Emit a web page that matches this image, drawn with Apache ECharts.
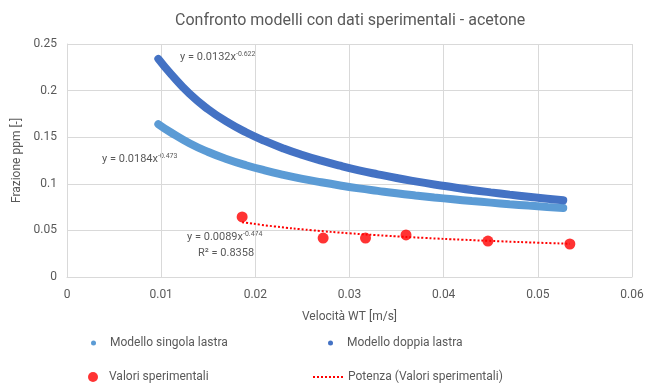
<!DOCTYPE html>
<html><head><meta charset="utf-8">
<script src="https://cdn.jsdelivr.net/npm/echarts@6/dist/echarts.min.js"></script>
<style>html,body{margin:0;padding:0;background:#fff}#c{width:662px;height:385px}</style>
</head><body><div id="c"></div>
<script>
// Data
const xModel = [0.0097,0.011,0.013,0.015,0.017,0.019,0.021,0.023,0.025,0.027,0.029,0.031,0.033,0.035,0.037,0.039,0.041,0.043,0.045,0.047,0.049,0.051,0.0527];
const ySingola = [0.1640,0.1553,0.1435,0.1341,0.1264,0.1199,0.1144,0.1096,0.1053,0.1016,0.0982,0.0951,0.0924,0.0898,0.0875,0.0854,0.0834,0.0815,0.0798,0.0781,0.0766,0.0752,0.0740];
const yDoppia = [0.2340,0.2182,0.1967,0.1799,0.1664,0.1553,0.1460,0.1379,0.1309,0.1248,0.1194,0.1145,0.1102,0.1062,0.1026,0.0993,0.0963,0.0934,0.0908,0.0884,0.0862,0.0840,0.0823];
const xExp = [0.0186,0.0272,0.0317,0.0360,0.0447,0.0534];
const yExp = [0.0644,0.0418,0.0418,0.0451,0.0386,0.0354];
const xTrend = [0.0186,0.022,0.026,0.030,0.034,0.038,0.042,0.046,0.050,0.0534];
const yTrend = [0.0588,0.0543,0.0502,0.0469,0.0442,0.0419,0.0400,0.0383,0.0368,0.0357];
const names = ['Modello singola lastra','Modello doppia lastra','Valori sperimentali','Potenza (Valori sperimentali)'];
const xTicks = [0,0.01,0.02,0.03,0.04,0.05,0.06];
const yTicks = [0,0.05,0.1,0.15,0.2,0.25];

const zip = (a,b)=>a.map((v,i)=>[v,b[i]]);
const FONT = 'Roboto';
const GRAY = '#595959';
const DOTTED = 'path://M0,0h2v2h-2z M4,0h2v2h-2z M8,0h2v2h-2z M12,0h2v2h-2z M16,0h2v2h-2z M20,0h2v2h-2z M24,0h2v2h-2z M28,0h2v2h-2z';
const chart = echarts.init(document.getElementById('c'));
function leg(name, icon, left, cy, w, h, padL){
  return {data:[{name:name, icon:icon}], left:left, top:cy - 8, itemWidth:w, itemHeight:h, padding:[0,0,0,0],
    itemStyle:{borderWidth:0},
    textStyle:{color:GRAY,fontSize:12,fontFamily:FONT,padding:[0,0,0,padL], height:16, lineHeight:16}};
}
chart.setOption({
  animation:false,
  textStyle:{fontFamily:FONT},
  title:{text:'Confronto modelli con dati sperimentali - acetone',left:170,top:8,
    textStyle:{fontSize:16,fontWeight:'normal',color:GRAY,fontFamily:FONT}},
  grid:{left:67,right:30,top:44,bottom:108},
  xAxis:{type:'value',min:0,max:0.06,interval:0.01,
    name:'Velocità WT [m/s]',nameLocation:'middle',nameGap:34,
    nameTextStyle:{color:GRAY,fontSize:12,fontFamily:FONT},
    axisLine:{show:true,lineStyle:{color:'#d9d9d9'}},axisTick:{show:false},
    axisLabel:{color:GRAY,fontSize:12,margin:12,formatter:v=>String(+v.toFixed(2))},
    splitLine:{show:true,lineStyle:{color:'#d9d9d9'}}},
  yAxis:{type:'value',min:0,max:0.25,interval:0.05,
    name:'Frazione ppm [-]',nameLocation:'middle',nameGap:37,
    nameTextStyle:{color:GRAY,fontSize:12,fontFamily:FONT},
    axisLine:{show:true,lineStyle:{color:'#d9d9d9'}},axisTick:{show:false},
    axisLabel:{color:GRAY,fontSize:12,margin:10,formatter:v=>String(+v.toFixed(2))},
    splitLine:{show:true,lineStyle:{color:'#d9d9d9'}}},
  legend:[
    leg(names[0],'circle',91,343,5,5,9),
    leg(names[1],'circle',328,343,5,5,9),
    leg(names[2],'circle',88,377,10,10,6),
    leg(names[3],DOTTED,313,377,30,2,0)
  ],
  series:[
    {name:names[0],type:'line',data:zip(xModel,ySingola),smooth:true,showSymbol:false,symbol:'circle',
      itemStyle:{color:'#5b9bd5'},lineStyle:{width:8,color:'#5b9bd5',cap:'round'},z:3},
    {name:names[1],type:'line',data:zip(xModel,yDoppia),smooth:true,showSymbol:false,symbol:'circle',
      itemStyle:{color:'#4472c4'},lineStyle:{width:8,color:'#4472c4',cap:'round'},z:3},
    {name:names[3],type:'line',data:zip(xTrend,yTrend),smooth:true,showSymbol:false,symbol:'none',
      itemStyle:{color:'#ff0000'},lineStyle:{width:2,type:[2,2],color:'#ff0000'},z:4},
    {name:names[2],type:'scatter',data:zip(xExp,yExp),symbol:'circle',symbolSize:11,
      itemStyle:{color:'#ff0000'},z:5}
  ],
  graphic:[
    {type:'text',left:180,top:51,style:{rich:{b:{fontSize:11,fill:GRAY,fontFamily:FONT},s:{fontSize:7,fill:GRAY,fontFamily:FONT,verticalAlign:'top',padding:[0,0,6,0]}},
      text:'{b|y = 0.0132x}{s|-0.622}'}},
    {type:'text',left:102,top:153,style:{rich:{b:{fontSize:11,fill:GRAY,fontFamily:FONT},s:{fontSize:7,fill:GRAY,fontFamily:FONT,verticalAlign:'top',padding:[0,0,6,0]}},
      text:'{b|y = 0.0184x}{s|-0.473}'}},
    {type:'text',left:187,top:231,style:{rich:{b:{fontSize:11,fill:GRAY,fontFamily:FONT},s:{fontSize:7,fill:GRAY,fontFamily:FONT,verticalAlign:'top',padding:[0,0,6,0]}},
      text:'{b|y = 0.0089x}{s|-0.474}'}},
    {type:'text',left:198,top:248,style:{text:'R² = 0.8358',fontSize:11,fill:GRAY,fontFamily:FONT}}
  ]
});
</script></body></html>
